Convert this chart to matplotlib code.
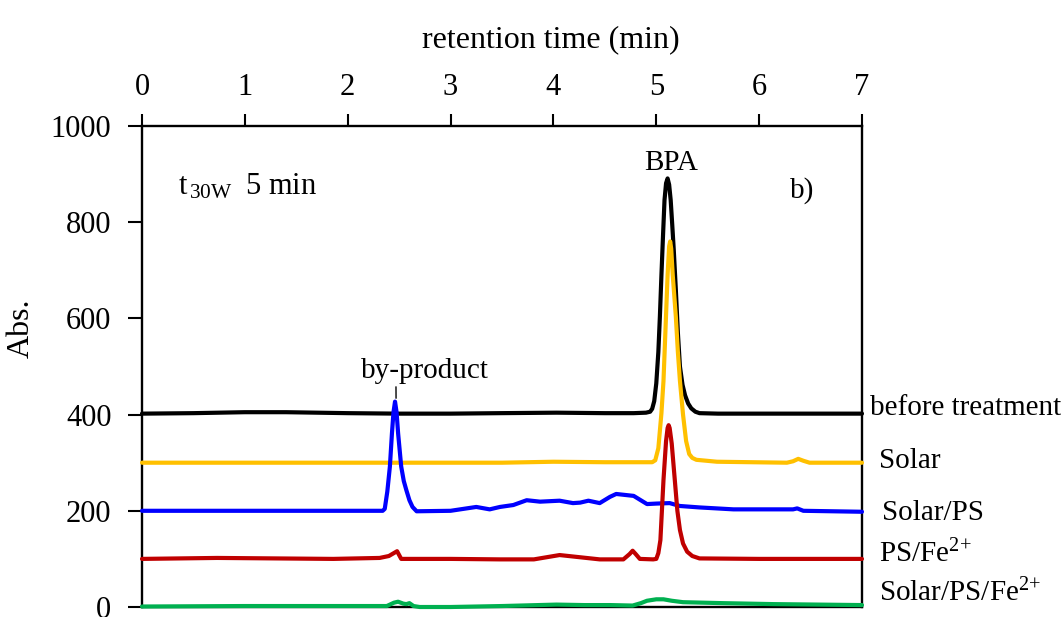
import matplotlib
matplotlib.use("Agg")
import matplotlib.pyplot as plt

plt.rcParams['font.family'] = ['Liberation Serif', 'DejaVu Serif']
plt.rcParams['mathtext.fontset'] = 'custom'
plt.rcParams['mathtext.rm'] = 'Liberation Serif'
plt.rcParams['mathtext.it'] = 'Liberation Serif:italic'
plt.rcParams['font.size'] = 21

# chromatograms (retention time in min, absorbance)
before_x = [0, 0.5, 1.0, 1.4, 2.0, 2.5, 3.0, 3.48, 4.03, 4.5, 4.78, 4.90, 4.94, 4.96, 4.98, 5.00,
            5.02, 5.035, 5.05, 5.065, 5.08, 5.095, 5.11, 5.125, 5.14, 5.155, 5.17, 5.19, 5.21,
            5.23, 5.255, 5.28, 5.31, 5.34, 5.38, 5.42, 5.6, 6.0, 6.5, 7.0]
before_y = [402, 403, 405, 405, 403, 402, 402, 403, 404, 403, 403, 404, 406, 412, 428, 465,
            530, 604, 690, 770, 846, 881, 891, 878, 846, 795, 742, 660, 570,
            500, 462, 440, 423, 413, 406, 403, 402, 402, 402, 402]

solar_x = [0, 1.0, 2.0, 3.0, 3.5, 4.0, 4.5, 4.96, 4.99, 5.02, 5.05, 5.07, 5.09, 5.11, 5.125,
           5.135, 5.145, 5.16, 5.19, 5.21, 5.23, 5.26, 5.29, 5.32, 5.35, 5.39, 5.59, 6.27,
           6.33, 6.38, 6.43, 6.49, 7.0]
solar_y = [300, 300, 300, 300, 300, 302, 301, 301, 305, 330, 403, 470, 580, 690, 750,
           760, 745, 690, 604, 530, 470, 400, 345, 318, 310, 306, 302, 300,
           303, 308, 304, 300, 300]

solar_ps_x = [0, 1.0, 2.0, 2.34, 2.36, 2.385, 2.41, 2.43, 2.445, 2.46, 2.475, 2.49, 2.52,
              2.545, 2.57, 2.60, 2.63, 2.67, 3.0, 3.25, 3.38, 3.48, 3.61, 3.74, 3.87, 4.06,
              4.19, 4.26, 4.34, 4.45, 4.55, 4.61, 4.78, 4.91, 5.00, 5.13, 5.23, 5.42, 5.75,
              6.33, 6.37, 6.43, 7.0]
solar_ps_y = [200, 200, 200, 200, 204, 240, 292, 361, 405, 427, 405, 361, 292,
              262, 243, 222, 208, 199, 200, 208, 203, 208, 212, 222, 219, 221,
              216, 217, 221, 216, 229, 235, 231, 214, 215, 216, 210, 207, 203,
              203, 205, 200, 198]

ps_fe_x = [0, 0.73, 1.86, 2.31, 2.40, 2.48, 2.52, 3.0, 3.48, 3.81, 4.06, 4.45, 4.68, 4.74,
           4.77, 4.80, 4.84, 4.97, 5.00, 5.02, 5.04, 5.07, 5.095, 5.11, 5.12, 5.13, 5.15,
           5.18, 5.205, 5.23, 5.26, 5.30, 5.35, 5.42, 6.0, 7.0]
ps_fe_y = [100, 102, 100, 102, 106, 116, 100, 100, 99, 99, 108, 99, 99, 110,
           117, 110, 100, 99, 100, 112, 139, 264, 345, 372, 378, 372, 340,
           264, 200, 160, 132, 115, 106, 101, 100, 100]

solar_ps_fe_x = [0, 1.0, 2.0, 2.38, 2.45, 2.49, 2.54, 2.57, 2.60, 2.64, 2.70, 3.0, 3.5, 4.03,
                 4.3, 4.55, 4.77, 4.85, 4.91, 5.0, 5.07, 5.15, 5.26, 5.65, 6.14, 7.0]
solar_ps_fe_y = [1, 2, 2, 2, 9, 11, 7, 6, 8, 2, 0, 0, 2, 5,
                 4, 4, 3, 8, 13, 16, 16, 13, 10, 8, 6, 4]

series = [
    (before_x, before_y, 'black'),
    (solar_x, solar_y, '#FFC000'),
    (solar_ps_x, solar_ps_y, '#0000FF'),
    (ps_fe_x, ps_fe_y, '#C00000'),
    (solar_ps_fe_x, solar_ps_fe_y, '#00B050'),
]

# series names written at the right edge: (text, x, baseline y)
labels = [
    ('before treatment', 7.08, 399),
    ('Solar', 7.17, 290),
    ('Solar/PS', 7.19, 181),
    ('PS/Fe$^{2{+}}$', 7.17, 92),
    ('Solar/PS/Fe$^{2{+}}$', 7.17, 11),
]

fig = plt.figure(figsize=(10.64, 6.17), dpi=100)
ax = fig.add_axes([142 / 1064, 1 - 607 / 617, 720 / 1064, 481 / 617])

for x, y, c in series:
    ax.plot(x, y, color=c, lw=3, clip_on=False, solid_joinstyle='round',
            solid_capstyle='round', zorder=3)

ax.set_xlim(0, 7)
ax.set_ylim(0, 1000)
ax.set_xticks(range(0, 8))
ax.set_yticks(range(0, 1001, 200))

ax.xaxis.tick_top()
ax.xaxis.set_label_position('top')
ax.tick_params(axis='x', direction='out', length=9, width=1.5, pad=8, labelsize=22)
ax.tick_params(axis='y', direction='out', length=10, width=1.5, pad=12, right=False,
               labelsize=22)
for s in ax.spines.values():
    s.set_linewidth(1.7)

ax.set_xlabel('retention time (min)', fontsize=23)
ax.xaxis.set_label_coords((551 - 142) / 720, (607 - 47) / 481)
ax.set_ylabel('Abs.', fontsize=23)
ax.yaxis.set_label_coords(-0.147, (607 - 328) / 481)

ax.text(0.35, 857, r'$\mathregular{t_{\,30W}\;}$ 5 min', va='baseline', fontsize=22)
ax.text(6.30, 850, 'b)', va='baseline')
ax.text(5.14, 908, 'BPA', ha='center', va='baseline')
ax.annotate('by-product', xy=(2.47, 434), xytext=(2.755, 476), ha='center', va='baseline',
            arrowprops=dict(arrowstyle='-', color='black', lw=1,
                            shrinkA=0, shrinkB=0, relpos=(0.27, 0.0)))

for text, x, y in labels:
    ax.text(x, y, text, va='baseline', clip_on=False)

fig.savefig('out.png', dpi=100)
